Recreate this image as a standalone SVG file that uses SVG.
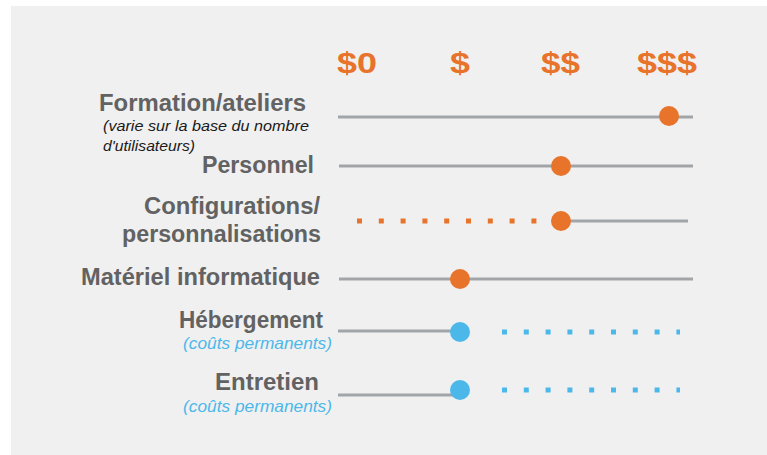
<svg xmlns="http://www.w3.org/2000/svg" width="767" height="455" viewBox="0 0 767 455">
<style>
.lbl{font-family:"Liberation Sans",Arial,sans-serif;font-weight:bold;font-size:23.5px;fill:#626262}
.note{font-family:"Liberation Sans",Arial,sans-serif;font-style:italic;font-size:14.5px;fill:#1a1a1a}
.blue{font-family:"Liberation Sans",Arial,sans-serif;font-style:italic;font-size:17px;fill:#4cb8e9}
.hdr{font-family:"Liberation Sans",Arial,sans-serif;font-weight:bold;font-size:29px;fill:#e8732a}
.track{stroke:#a2a5a8;stroke-width:3;fill:none}
.dotO{stroke:#e8732a;stroke-width:5;stroke-dasharray:5 16.8;fill:none}
.dotB{stroke:#4cb8e9;stroke-width:5;stroke-dasharray:5 16.8;fill:none}
.o{fill:#e8732a}
.b{fill:#4cb8e9}
</style>
<rect x="11" y="6" width="756" height="449" fill="#f0f0f0"/>
<g id="headers">
<text class="hdr" x="337" y="73" textLength="40" lengthAdjust="spacingAndGlyphs">$0</text>
<text class="hdr" x="450" y="73" textLength="20" lengthAdjust="spacingAndGlyphs">$</text>
<text class="hdr" x="541" y="73" textLength="39" lengthAdjust="spacingAndGlyphs">$$</text>
<text class="hdr" x="637" y="73" textLength="60" lengthAdjust="spacingAndGlyphs">$$$</text>
</g>
<g id="connectors">
<line class="track" x1="338" y1="117" x2="693" y2="117"/>
<line class="track" x1="339" y1="166" x2="693" y2="166"/>
<line class="dotO" x1="357" y1="221" x2="545" y2="221"/>
<line class="track" x1="562" y1="221" x2="688" y2="221"/>
<line class="track" x1="339" y1="279" x2="693" y2="279"/>
<line class="track" x1="338" y1="331" x2="455" y2="331"/>
<line class="dotB" x1="502" y1="332" x2="680" y2="332"/>
<line class="track" x1="338" y1="395" x2="455" y2="395"/>
<line class="dotB" x1="502" y1="390" x2="680" y2="390"/>
</g>
<g id="formation">
<text class="lbl" x="99" y="111" textLength="207" lengthAdjust="spacingAndGlyphs">Formation/ateliers</text>
<text class="note" x="103" y="131" textLength="206" lengthAdjust="spacingAndGlyphs">(varie sur la base du nombre</text>
<text class="note" x="103" y="151" textLength="92" lengthAdjust="spacingAndGlyphs">d'utilisateurs)</text>
<circle class="o" cx="669" cy="116" r="10"/>
</g>
<g id="personnel">
<text class="lbl" x="202" y="173" textLength="112" lengthAdjust="spacingAndGlyphs">Personnel</text>
<circle class="o" cx="561" cy="166" r="10"/>
</g>
<g id="configurations">
<text class="lbl" x="144" y="214" textLength="176" lengthAdjust="spacingAndGlyphs">Configurations/</text>
<text class="lbl" x="122" y="242" textLength="199" lengthAdjust="spacingAndGlyphs">personnalisations</text>
<circle class="o" cx="561" cy="221" r="10"/>
</g>
<g id="materiel">
<text class="lbl" x="81" y="285" textLength="239" lengthAdjust="spacingAndGlyphs">Matériel informatique</text>
<circle class="o" cx="460" cy="279" r="10"/>
</g>
<g id="hebergement">
<text class="lbl" x="179" y="328" textLength="144" lengthAdjust="spacingAndGlyphs">Hébergement</text>
<text class="blue" x="183" y="349" textLength="149" lengthAdjust="spacingAndGlyphs">(coûts permanents)</text>
<circle class="b" cx="460" cy="332" r="10"/>
</g>
<g id="entretien">
<text class="lbl" x="215" y="390" textLength="104" lengthAdjust="spacingAndGlyphs">Entretien</text>
<text class="blue" x="183" y="412" textLength="149" lengthAdjust="spacingAndGlyphs">(coûts permanents)</text>
<circle class="b" cx="460" cy="390" r="10"/>
</g>
</svg>
